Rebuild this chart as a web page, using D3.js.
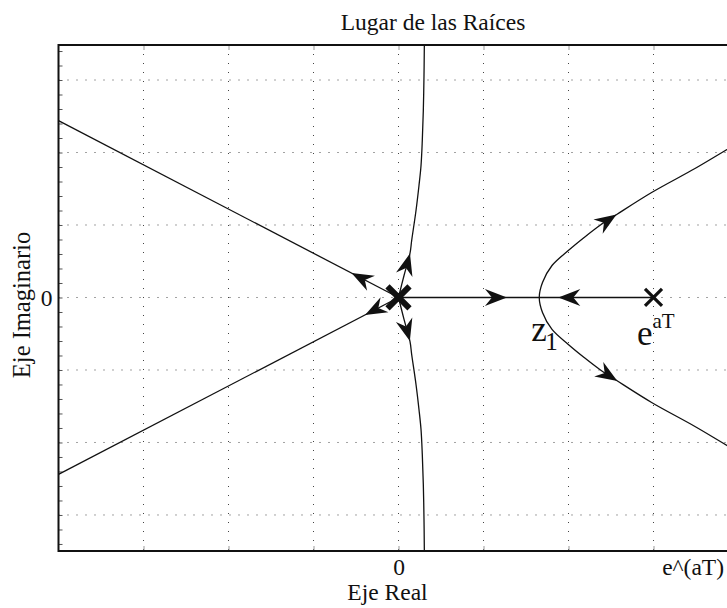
<!DOCTYPE html>
<html>
<head>
<meta charset="utf-8">
<script src="https://cdn.jsdelivr.net/npm/d3@7"></script>
<style>
  body { margin: 0; background: #fff; }
  svg text { font-family: "Liberation Serif", "Times New Roman", serif; fill: #111; }
</style>
</head>
<body>
<svg id="chart" width="727" height="608" font-family="Liberation Serif, Times New Roman, serif"></svg>
<script>
// ---- Root-locus data (real, imaginary); each branch starts at its pole ----
const branchUpperLeft = [[0, 0], [-4, 2.44]];
const branchLowerLeft = [[0, 0], [-4, -2.44]];
const branchUp = [[0, 0], [0.065, 0.303], [0.135, 0.607], [0.155, 0.786], [0.206, 1.2], [0.241, 1.545],
                  [0.265, 1.821], [0.28, 2.166], [0.292, 2.579], [0.3, 3.062], [0.304, 3.483], [0.305, 3.6]];
const branchDown = [[0, 0], [0.065, -0.303], [0.135, -0.607], [0.155, -0.786], [0.206, -1.2], [0.241, -1.545],
                    [0.265, -1.821], [0.28, -2.166], [0.292, -2.579], [0.3, -3.062], [0.304, -3.483], [0.305, -3.6]];
const branchRealFromOrigin = [[0, 0], [1.656, 0]];
const branchRealFromPole = [[3, 0], [1.656, 0]];
const branchRightUpper = [[1.656, 0], [1.694, 0.207], [1.806, 0.441], [1.998, 0.648], [2.184, 0.828], [2.376, 1.0],
                          [2.567, 1.145], [2.978, 1.448], [3.488, 1.779], [3.806, 2.0], [4.202, 2.276]];
const branchRightLower = [[1.656, 0], [1.694, -0.207], [1.806, -0.441], [1.998, -0.648], [2.184, -0.828], [2.376, -1.0],
                          [2.567, -1.145], [2.978, -1.448], [3.488, -1.779], [3.806, -2.0], [4.202, -2.276]];

// Poles (open-loop) and the breakaway point z1
const poles = [{ re: 0, im: 0, order: 2 }, { re: 3, im: 0, order: 1 }];
const breakaway = [1.656, 0];

// Direction arrows: branch + approximate tip location
const arrows = [
  { branch: branchUpperLeft, tip: [-0.547, 0.35] },
  { branch: branchLowerLeft, tip: [-0.394, -0.24] },
  { branch: branchUp, tip: [0.135, 0.607] },
  { branch: branchDown, tip: [0.135, -0.6] },
  { branch: branchRealFromOrigin, tip: [1.276, 0] },
  { branch: branchRealFromPole, tip: [1.88, 0] },
  { branch: branchRightUpper, tip: [2.567, 1.14] },
  { branch: branchRightLower, tip: [2.586, -1.13] }
];

// Axis ticks and labels
const xTickValues = [-3, -2, -1, 0, 1, 2, 3, 4];
const yGridValues = [-3, -2, -1, 0, 1, 2, 3];
const yMinorTicks = d3.range(-17, 18).map(i => i / 5);
const xTickLabels = [{ value: 0, text: "0" }, { value: 3.46, text: "e^(aT)" }];
const yTickLabels = [{ value: 0, text: "0" }];

// ---- Layout ----
const svg = d3.select("#chart");
const x = d3.scaleLinear().domain([-4, 4.5]).range([58.5, 781]);
const y = d3.scaleLinear().domain([-3.497, 3.483]).range([551, 45]);
const plotL = x.range()[0], plotR = x.range()[1];
const plotT = y.range()[1], plotB = y.range()[0];
const FONT = 23.5;

svg.append("defs").append("clipPath").attr("id", "plot-clip")
  .append("rect").attr("x", plotL).attr("y", plotT)
  .attr("width", plotR - plotL).attr("height", plotB - plotT);

// Dotted grid
const grid = svg.append("g").attr("stroke", "#444").attr("stroke-width", 1).attr("stroke-dasharray", "1,8");
grid.selectAll("line.v").data(xTickValues).join("line").attr("class", "v")
  .attr("x1", d => x(d)).attr("x2", d => x(d)).attr("y1", plotT).attr("y2", plotB);
grid.selectAll("line.h").data(yGridValues).join("line").attr("class", "h")
  .attr("y1", d => y(d)).attr("y2", d => y(d)).attr("x1", plotL).attr("x2", plotR);

// Tick marks (pointing inward)
function styleTicks(g, color) {
  g.select(".domain").remove();
  g.selectAll(".tick line").attr("stroke", color).attr("stroke-width", 1);
}
svg.append("g").attr("transform", `translate(0,${plotB})`)
  .call(d3.axisBottom(x).tickValues(xTickValues).tickSize(-5).tickFormat(""))
  .call(g => styleTicks(g, "#999"));
svg.append("g").attr("transform", `translate(0,${plotT})`)
  .call(d3.axisTop(x).tickValues(xTickValues).tickSize(-5).tickFormat(""))
  .call(g => styleTicks(g, "#999"));
svg.append("g").attr("transform", `translate(${plotL},0)`)
  .call(d3.axisLeft(y).tickValues(yMinorTicks).tickSize(-4).tickFormat(""))
  .call(g => styleTicks(g, "#555"));

// Tick labels
function styleLabels(g) {
  g.select(".domain").remove();
  g.attr("font-family", null).attr("font-size", null);
  g.selectAll(".tick line").remove();
  g.selectAll(".tick text").style("font-size", FONT + "px").attr("fill", "#111");
}
svg.append("g").attr("transform", `translate(0,${plotB})`)
  .call(d3.axisBottom(x).tickValues(xTickLabels.map(d => d.value)).tickSize(0).tickPadding(7)
    .tickFormat(v => xTickLabels.find(d => d.value === v).text))
  .call(styleLabels);
svg.append("g").attr("transform", `translate(${plotL},0)`)
  .call(d3.axisLeft(y).tickValues(yTickLabels.map(d => d.value)).tickSize(0).tickPadding(6)
    .tickFormat(v => yTickLabels.find(d => d.value === v).text))
  .call(styleLabels);

// ---- Locus branches ----
const line = d3.line().x(d => x(d[0])).y(d => y(d[1])).curve(d3.curveCatmullRom.alpha(0.5));
const rightCurve = branchRightLower.slice().reverse().concat(branchRightUpper.slice(1));
const drawn = [branchUpperLeft, branchLowerLeft, branchUp, branchDown,
               branchRealFromOrigin, branchRealFromPole, rightCurve];
const locus = svg.append("g").attr("clip-path", "url(#plot-clip)");
locus.selectAll("path").data(drawn).join("path")
  .attr("d", line).attr("fill", "none").attr("stroke", "#111").attr("stroke-width", 1.3);

// Arrowheads, oriented along their branch (direction of increasing gain)
function placeOnBranch(pts, tip) {
  const P = pts.map(p => [x(p[0]), y(p[1])]);
  const T = [x(tip[0]), y(tip[1])];
  let best = null;
  for (let i = 0; i < P.length - 1; i++) {
    const [ax, ay] = P[i], [bx, by] = P[i + 1];
    const dx = bx - ax, dy = by - ay, L2 = dx * dx + dy * dy;
    let t = ((T[0] - ax) * dx + (T[1] - ay) * dy) / L2;
    t = Math.max(0, Math.min(1, t));
    const px = ax + t * dx, py = ay + t * dy;
    const dist = Math.hypot(T[0] - px, T[1] - py);
    if (!best || dist < best.dist) best = { px, py, dist, angle: Math.atan2(dy, dx) * 180 / Math.PI };
  }
  return best;
}
const head = "M0,0L-22,-8.5L-15,0L-22,8.5Z";
svg.append("g").selectAll("path").data(arrows).join("path")
  .attr("d", head).attr("fill", "#111")
  .attr("transform", d => {
    const p = placeOnBranch(d.branch, d.tip);
    return `translate(${p.px},${p.py}) rotate(${p.angle})`;
  });

// Pole markers
svg.append("g").selectAll("path").data(poles).join("path")
  .attr("d", d => { const h = d.order > 1 ? 11 : 8.5; return `M${-h},${-h}L${h},${h}M${-h},${h}L${h},${-h}`; })
  .attr("transform", d => `translate(${x(d.re)},${y(d.im)})`)
  .attr("fill", "none").attr("stroke", "#111")
  .attr("stroke-width", d => d.order > 1 ? 6 : 3.2);

// Point annotations
const ann = svg.append("g");
ann.append("text").attr("x", x(breakaway[0]) - 8).attr("y", y(breakaway[1]) + 44)
  .style("font-size", "35px").text("z");
ann.append("text").attr("x", x(breakaway[0]) + 6).attr("y", y(breakaway[1]) + 53)
  .style("font-size", "25px").text("1");
ann.append("text").attr("x", x(poles[1].re) - 16.5).attr("y", y(poles[1].im) + 48)
  .style("font-size", "35px").text("e");
ann.append("text").attr("x", x(poles[1].re) - 1).attr("y", y(poles[1].im) + 31)
  .style("font-size", "21px").text("aT");

// Axes frame
svg.append("path")
  .attr("d", `M${plotR},${plotT}H${plotL}V${plotB}H${plotR}`)
  .attr("fill", "none").attr("stroke", "#111").attr("stroke-width", 2);

// Titles
svg.append("text").attr("x", 433).attr("y", 30).attr("text-anchor", "middle")
  .style("font-size", FONT + "px").text("Lugar de las Raíces");
svg.append("text").attr("x", 387.5).attr("y", 600).attr("text-anchor", "middle")
  .style("font-size", FONT + "px").text("Eje Real");
svg.append("text").attr("transform", "translate(30,305) rotate(-90)").attr("text-anchor", "middle")
  .style("font-size", "24.5px").text("Eje Imaginario");
</script>
</body>
</html>
